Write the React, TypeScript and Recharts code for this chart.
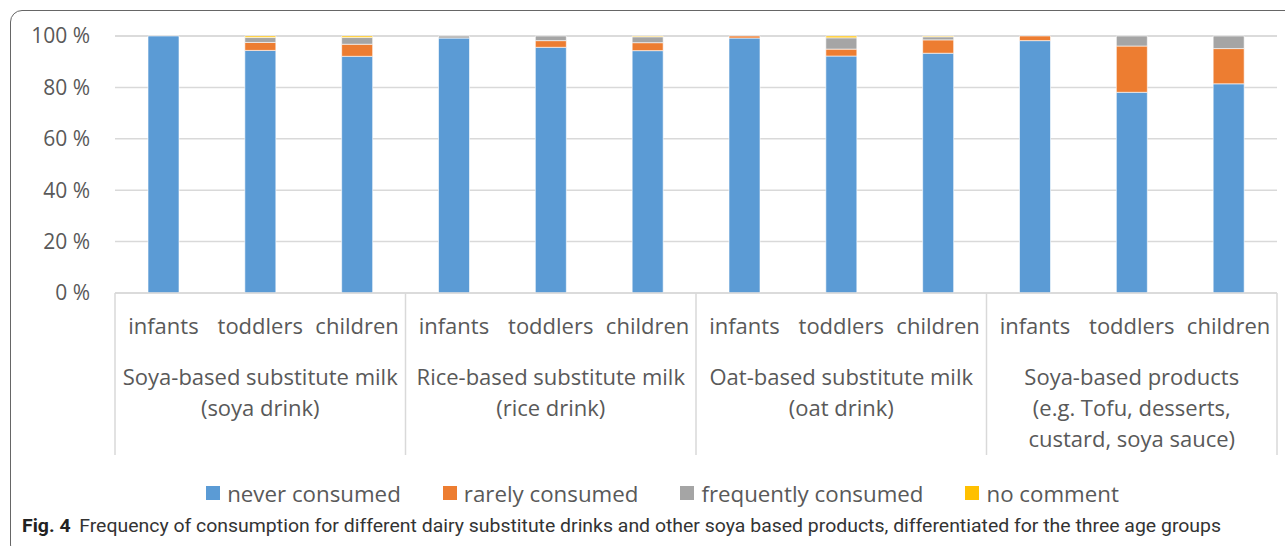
import React from "react";
import { BarChart, Bar, XAxis, YAxis, CartesianGrid, Legend } from "recharts";

const groups = [
  ["Soya-based substitute milk", "(soya drink)"],
  ["Rice-based substitute milk", "(rice drink)"],
  ["Oat-based substitute milk", "(oat drink)"],
  ["Soya-based products", "(e.g. Tofu, desserts,", "custard, soya sauce)"],
];
const ages = ["infants", "toddlers", "children"];

// shares in %, 3 age groups per product
const never = [100, 94.4, 92.1, 99.2, 95.6, 94.3, 99.2, 92.2, 93.3, 98.2, 78.1, 81.4];
const rarely = [0, 3.1, 4.7, 0, 2.6, 3.1, 0.8, 2.7, 5.2, 1.8, 18.0, 13.7];
const frequently = [0, 1.9, 2.6, 0.8, 1.8, 2.3, 0, 4.4, 1.2, 0, 3.9, 4.9];
const noComment = [0, 0.6, 0.6, 0, 0, 0.3, 0, 0.7, 0.3, 0, 0, 0];

const yTicks = [0, 20, 40, 60, 80, 100];

const series = [
  { key: "never", name: "never consumed", color: "#5B9BD5" },
  { key: "rarely", name: "rarely consumed", color: "#ED7D31" },
  { key: "frequently", name: "frequently consumed", color: "#A5A5A5" },
  { key: "noComment", name: "no comment", color: "#FFC000" },
];

const data = never.map((v, i) => ({
  age: ages[i % 3],
  group: Math.floor(i / 3),
  never: v,
  rarely: rarely[i],
  frequently: frequently[i],
  noComment: noComment[i],
}));

const FONT = "'Open Sans', sans-serif";
const TEXT = "#595959";
const LINE = "#D9D9D9";
const PLOT_LEFT = 115;
const PLOT_RIGHT = 1277;
const BAND = (PLOT_RIGHT - PLOT_LEFT) / data.length;

function CategoryTick(props: any) {
  const { x, y, payload } = props;
  const i = payload.index;
  const g = Math.floor(i / 3);
  const boxBottom = y + 162;
  return (
    <g>
      <text x={x} y={y + 41} textAnchor="middle" fill={TEXT} fontSize={22} fontFamily={FONT}>
        {ages[i % 3]}
      </text>
      {i % 3 === 0 && (
        <line x1={x - BAND / 2} x2={x - BAND / 2} y1={y} y2={boxBottom} stroke={LINE} strokeWidth={1.5} />
      )}
      {i === data.length - 1 && (
        <line x1={x + BAND / 2} x2={x + BAND / 2} y1={y} y2={boxBottom} stroke={LINE} strokeWidth={1.5} />
      )}
      {i % 3 === 1 &&
        groups[g].map((ln, k) => (
          <text key={k} x={x} y={y + 92 + k * 31} textAnchor="middle" fill={TEXT} fontSize={22} fontFamily={FONT}>
            {ln}
          </text>
        ))}
    </g>
  );
}

function LegendContent() {
  return (
    <div
      style={{
        display: "flex",
        justifyContent: "center",
        height: 30,
        alignItems: "center",
        paddingLeft: 48,
        fontFamily: FONT,
        fontSize: 22.3,
        color: TEXT,
      }}
    >
      {series.map((s) => (
        <div key={s.key} style={{ display: "flex", alignItems: "center", margin: "0 21px" }}>
          <span style={{ display: "inline-block", width: 14, height: 14, background: s.color, marginRight: 7 }} />
          <span>{s.name}</span>
        </div>
      ))}
    </div>
  );
}

export default function App() {
  return (
    <div style={{ position: "absolute", left: 0, top: 0, width: 1285, height: 546, overflow: "hidden", background: "#fff" }}>
      <div
        style={{
          position: "absolute",
          left: 10,
          top: 10,
          width: 1320,
          height: 545,
          border: "1.5px solid #666",
          borderRadius: 12,
        }}
      />
      <BarChart
        width={1285}
        height={546}
        data={data}
        margin={{ top: 36, right: 1285 - PLOT_RIGHT, left: 0, bottom: 38 }}
        barSize={31}
      >
        <CartesianGrid vertical={false} stroke={LINE} strokeWidth={1.5} />
        <XAxis
          dataKey="age"
          interval={0}
          height={185}
          tickSize={0}
          tickMargin={0}
          tickLine={false}
          axisLine={{ stroke: LINE, strokeWidth: 1.5 }}
          tick={<CategoryTick />}
        />
        <YAxis
          domain={[0, 100]}
          ticks={yTicks}
          width={PLOT_LEFT}
          tickSize={0}
          tickMargin={25}
          tickLine={false}
          axisLine={false}
          tickFormatter={(v: number) => `${v} %`}
          tick={{ fill: TEXT, fontSize: 21, fontFamily: FONT }}
        />
        <Legend verticalAlign="bottom" content={<LegendContent />} />
        {series.map((s) => (
          <Bar
            key={s.key}
            dataKey={s.key}
            name={s.name}
            stackId="a"
            fill={s.color}
            stroke="#ffffff"
            strokeWidth={0.6}
            isAnimationActive={false}
          />
        ))}
      </BarChart>
      <div
        style={{
          position: "absolute",
          left: 22,
          top: 515,
          fontFamily: "'Liberation Sans Narrow', 'Roboto', sans-serif",
          fontSize: 18,
          color: "#333",
          whiteSpace: "nowrap",
          transform: "scaleX(1.08)",
          transformOrigin: "left center",
        }}
      >
        <b style={{ color: "#222" }}>Fig. 4</b>
        <span style={{ marginLeft: 8 }}>
          Frequency of consumption for different dairy substitute drinks and other soya based products, differentiated for the three age groups
        </span>
      </div>
    </div>
  );
}
